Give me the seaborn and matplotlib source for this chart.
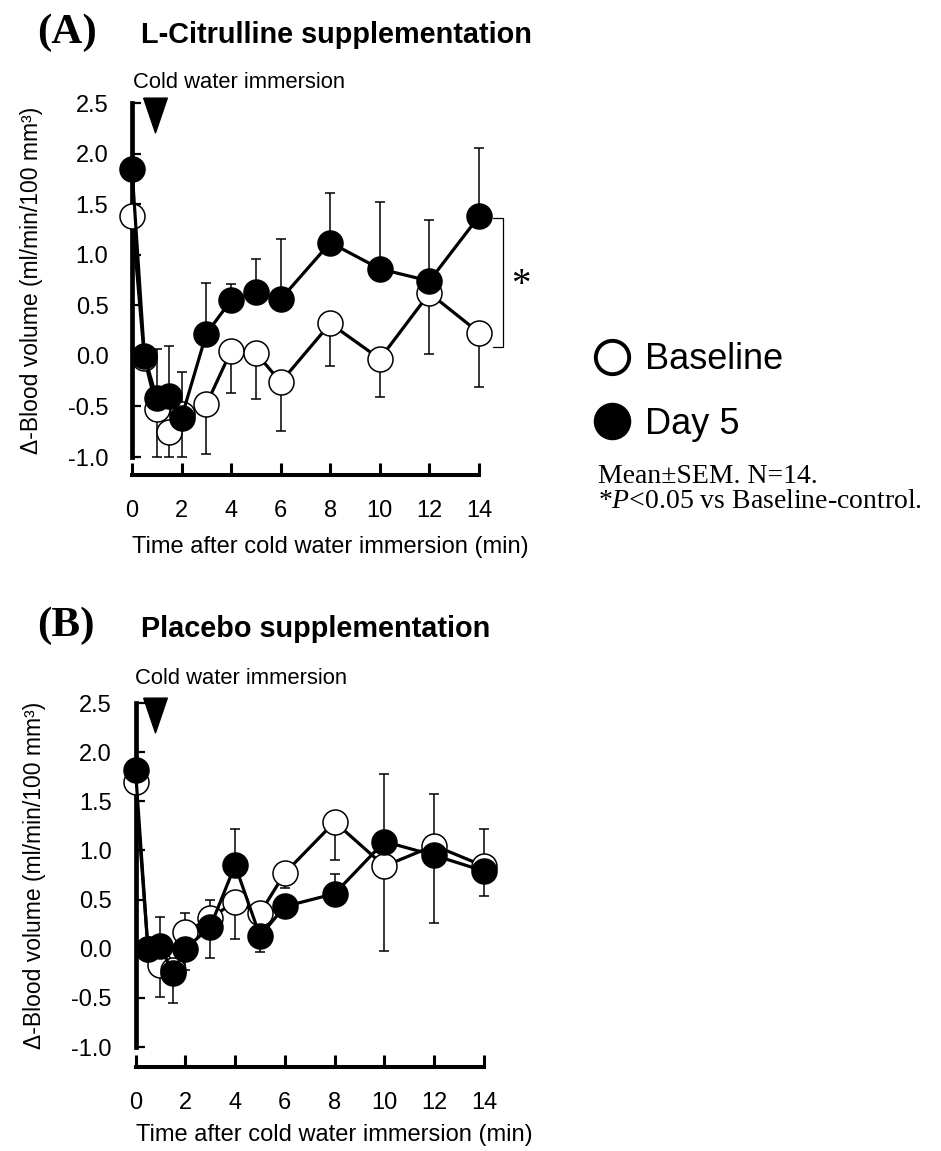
import numpy as np
import pandas as pd
import matplotlib
matplotlib.use("Agg")
import matplotlib.pyplot as plt
import seaborn as sns
from matplotlib.lines import Line2D

# ---------------- data ----------------
times = [0, 0.5, 1, 1.5, 2, 3, 4, 5, 6, 8, 10, 12, 14]
x_ticks = [0, 2, 4, 6, 8, 10, 12, 14]
y_ticks = [-1.0, -0.5, 0.0, 0.5, 1.0, 1.5, 2.0, 2.5]
y_tick_labels = ["-1.0", "-0.5", "0.0", "0.5", "1.0", "1.5", "2.0", "2.5"]
groups = ["Baseline", "Day 5"]

# (A) L-Citrulline supplementation
a_baseline = [1.38, -0.02, -0.53, -0.75, -0.57, -0.48, 0.05, 0.03, -0.26, 0.32, -0.03, 0.62, 0.23]
a_baseline_sem = [0.10, 0.10, 0.47, 0.25, 0.43, 0.49, 0.42, 0.46, 0.48, 0.42, 0.38, 0.60, 0.54]
a_day5 = [1.85, 0.00, -0.42, -0.40, -0.61, 0.22, 0.55, 0.63, 0.56, 1.12, 0.86, 0.74, 1.38]
a_day5_sem = [0.10, 0.10, 0.49, 0.50, 0.45, 0.50, 0.16, 0.33, 0.60, 0.49, 0.66, 0.60, 0.68]

# (B) Placebo supplementation
b_baseline = [1.70, 0.00, -0.17, -0.22, 0.17, 0.31, 0.48, 0.36, 0.77, 1.29, 0.84, 1.05, 0.84]
b_baseline_sem = [0.10, 0.10, 0.32, 0.33, 0.39, 0.40, 0.38, 0.39, 0.15, 0.39, 0.86, 0.79, 0.30]
b_day5 = [1.82, 0.00, 0.03, -0.25, 0.00, 0.22, 0.85, 0.13, 0.43, 0.56, 1.09, 0.95, 0.79]
b_day5_sem = [0.10, 0.10, 0.29, 0.10, 0.36, 0.28, 0.37, 0.08, 0.10, 0.20, 0.69, 0.62, 0.43]

immersion_time_a = 0.92
immersion_time_b = 0.80

# ---------------- style ----------------
sns.set_style("ticks")
plt.rcParams["font.family"] = ["Liberation Sans", "DejaVu Sans"]
plt.rcParams["mathtext.fontset"] = "custom"
plt.rcParams["mathtext.it"] = "Liberation Serif:italic"
plt.rcParams["mathtext.rm"] = "Liberation Serif"
for k in ["text.color", "axes.labelcolor", "xtick.color", "ytick.color", "axes.edgecolor"]:
    plt.rcParams[k] = "black"

W, H = 941, 1151
fig = plt.figure(figsize=(W / 100, H / 100), dpi=100)
fig.patch.set_facecolor("white")

axA = fig.add_axes([132 / W, 1 - 457 / H, (479 - 132) / W, (457 - 103) / H])
axB = fig.add_axes([135.5 / W, 1 - 1047 / H, (484 - 135.5) / W, (1047 - 703) / H])

tri = [(-0.34, 0.5), (0.34, 0.5), (0.0, -0.5), (-0.34, 0.5)]


def draw_panel(ax, base, base_sem, day5, day5_sem, offset, t_imm):
    n = len(times)
    df = pd.DataFrame({
        "time": times * 2,
        "value": base + day5,
        "group": [groups[0]] * n + [groups[1]] * n,
    })
    zeros = np.zeros(n)
    ax.errorbar(times, base, yerr=[base_sem, zeros], fmt="none", ecolor="black",
                elinewidth=1.1, capsize=3.8, capthick=1.1, zorder=2, clip_on=False)
    ax.errorbar(times, day5, yerr=[zeros, day5_sem], fmt="none", ecolor="black",
                elinewidth=1.1, capsize=3.8, capthick=1.1, zorder=2, clip_on=False)
    sns.lineplot(data=df[df["group"] == groups[0]], x="time", y="value", ax=ax,
                 color="black", linewidth=2.3, marker="o", markersize=18,
                 markerfacecolor="white", markeredgecolor="black", markeredgewidth=1.1,
                 errorbar=None, legend=False, zorder=3, clip_on=False)
    sns.lineplot(data=df[df["group"] == groups[1]], x="time", y="value", ax=ax,
                 color="black", linewidth=2.3, marker="o", markersize=18,
                 markerfacecolor="black", markeredgecolor="black", markeredgewidth=1.1,
                 errorbar=None, legend=False, zorder=4, clip_on=False)
    # immersion marker
    ax.plot([t_imm], [2.38], marker=tri, markersize=25, color="black",
            linestyle="none", clip_on=False, zorder=5)

    ax.set_xlim(0, 14)
    ax.set_ylim(-1.0, 2.5)
    ax.set_xticks(x_ticks)
    ax.set_xticklabels([str(t) for t in x_ticks])
    ax.set_yticks(y_ticks)
    ax.set_yticklabels(y_tick_labels)
    ax.spines["top"].set_visible(False)
    ax.spines["right"].set_visible(False)
    ax.spines["bottom"].set_position(("outward", offset))
    ax.spines["bottom"].set_bounds(0, 14)
    ax.spines["left"].set_bounds(-1.0, 2.5)
    ax.spines["left"].set_linewidth(3.4)
    ax.spines["bottom"].set_linewidth(2.9)
    ax.tick_params(axis="x", direction="in", length=8.5, width=2.2, pad=18,
                   labelsize=17, colors="black")
    ax.tick_params(axis="y", direction="in", length=6.5, width=1.6, pad=17,
                   labelsize=17, colors="black")
    ax.set_xlabel("Time after cold water immersion (min)", fontsize=17, loc="left",
                  labelpad=10, color="black")
    ax.set_ylabel("\u0394-Blood volume (ml/min/100 mm\u00b3)", fontsize=16.5, labelpad=18,
                  color="black")
    ax.set_facecolor("white")
    ax.grid(False)


draw_panel(axA, a_baseline, a_baseline_sem, a_day5, a_day5_sem, 13, immersion_time_a)
draw_panel(axB, b_baseline, b_baseline_sem, b_day5, b_day5_sem, 14.5, immersion_time_b)
axB.xaxis.labelpad = 7

# significance bracket in panel A
axA.plot([14.55, 14.95, 14.95, 14.55], [1.36, 1.36, 0.09, 0.09], color="black",
         linewidth=0.9, clip_on=False)
axA.text(15.7, 0.70, "*", fontsize=28, family="Liberation Serif", ha="center",
         va="center", clip_on=False)

# panel titles
fig.text(37 / W, 1 - 33 / H, "(A)", fontsize=31, fontweight="bold",
         family="Liberation Serif", ha="left", va="center")
fig.text(141 / W, 1 - 35 / H, "L-Citrulline supplementation", fontsize=20.8,
         fontweight="bold", ha="left", va="center")
fig.text(37 / W, 1 - 626 / H, "(B)", fontsize=31, fontweight="bold",
         family="Liberation Serif", ha="left", va="center")
fig.text(141 / W, 1 - 629 / H, "Placebo supplementation", fontsize=20.8,
         fontweight="bold", ha="left", va="center")

fig.text(133 / W, 1 - 82 / H, "Cold water immersion", fontsize=15.8, ha="left", va="center")
fig.text(135 / W, 1 - 679 / H, "Cold water immersion", fontsize=15.8, ha="left", va="center")

# legend
handles = [
    Line2D([0], [0], marker="o", linestyle="none", markersize=24,
           markerfacecolor="white", markeredgecolor="black", markeredgewidth=2.8),
    Line2D([0], [0], marker="o", linestyle="none", markersize=26,
           markerfacecolor="black", markeredgecolor="black", markeredgewidth=1.0),
]
fig.legend(handles, groups, loc="center left", bbox_to_anchor=(594 / W, 1 - 392 / H),
           frameon=False, fontsize=26, handlelength=1.0, handletextpad=0.42,
           labelspacing=0.82, borderpad=0, borderaxespad=0)

fig.text(598 / W, 1 - 483 / H, "Mean\u00b1SEM. N=14.", fontsize=20,
         family="Liberation Serif", ha="left", va="baseline")
fig.text(598 / W, 1 - 508 / H, "*$P$<0.05 vs Baseline-control.", fontsize=20,
         family="Liberation Serif", ha="left", va="baseline")

fig.savefig("out.png", dpi=100, facecolor="white")
